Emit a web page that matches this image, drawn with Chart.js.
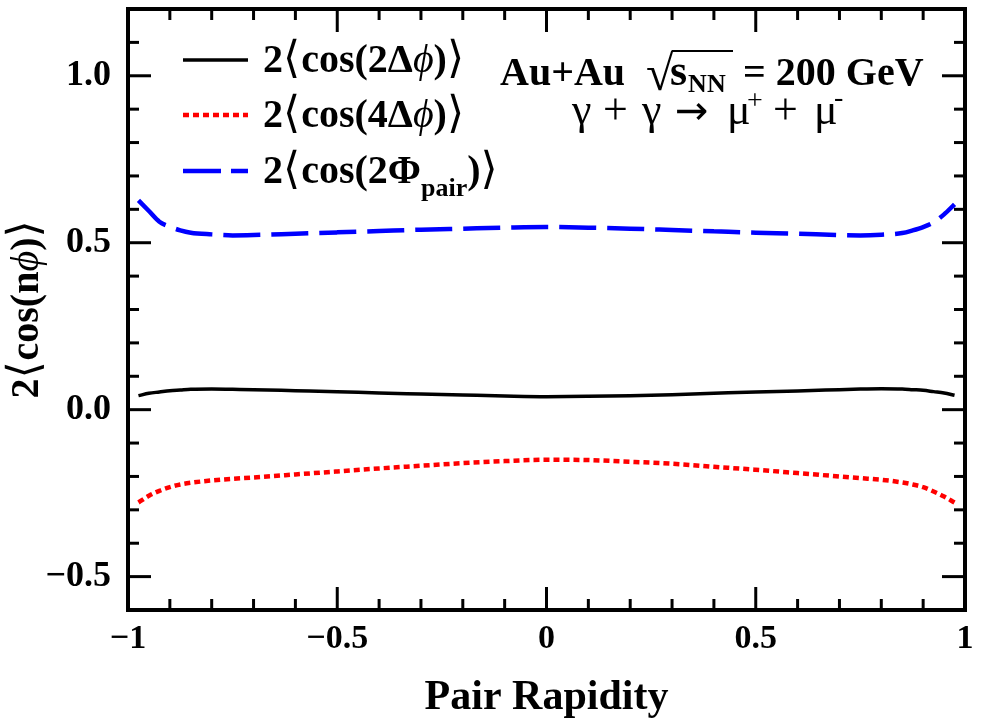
<!DOCTYPE html>
<html>
<head>
<meta charset="utf-8">
<script src="https://cdn.jsdelivr.net/npm/chart.js@4.4.1/dist/chart.umd.min.js"></script>
<style>
  html, body { margin: 0; padding: 0; background: #ffffff; }
  #wrap { width: 982px; height: 726px; }
</style>
</head>
<body>
<div id="wrap"><canvas id="c" width="982" height="726"></canvas></div>
<script>
// ---------------- data ----------------
const rapidity = [-0.975, -0.95, -0.925, -0.9, -0.875, -0.85, -0.8, -0.75, -0.7, -0.6, -0.5, -0.4, -0.3, -0.2, -0.1,
                  0, 0.1, 0.2, 0.3, 0.4, 0.5, 0.6, 0.7, 0.75, 0.8, 0.85, 0.875, 0.9, 0.925, 0.95, 0.975];
const cos2dphi = [0.042, 0.049, 0.053, 0.057, 0.059, 0.061, 0.062, 0.061, 0.060, 0.057, 0.054, 0.050, 0.047, 0.044, 0.041,
                  0.039, 0.040, 0.042, 0.045, 0.049, 0.053, 0.056, 0.060, 0.062, 0.063, 0.062, 0.060, 0.058, 0.054, 0.050, 0.043];
const cos4dphi = [-0.278, -0.258, -0.243, -0.232, -0.224, -0.219, -0.212, -0.207, -0.203, -0.194, -0.185, -0.176, -0.168, -0.160, -0.154,
                  -0.150, -0.151, -0.156, -0.162, -0.171, -0.180, -0.190, -0.200, -0.205, -0.210, -0.218, -0.224, -0.232, -0.245, -0.260, -0.278];
const cos2phipair = [0.627, 0.595, 0.563, 0.548, 0.537, 0.530, 0.525, 0.522, 0.523, 0.527, 0.531, 0.535, 0.539, 0.542, 0.545,
                     0.547, 0.545, 0.542, 0.538, 0.534, 0.530, 0.527, 0.523, 0.522, 0.524, 0.529, 0.537, 0.547, 0.561, 0.585, 0.615];

const xTickValues = [-1, -0.5, 0, 0.5, 1];
const xTickLabels = ['\u22121', '\u22120.5', '0', '0.5', '1'];
const yTickValues = [-0.5, 0, 0.5, 1.0];
const yTickLabels = ['\u22120.5', '0.0', '0.5', '1.0'];
const xMinorValues = [-0.9, -0.8, -0.7, -0.6, -0.4, -0.3, -0.2, -0.1, 0.1, 0.2, 0.3, 0.4, 0.6, 0.7, 0.8, 0.9];
const yMinorValues = [-0.6, -0.4, -0.3, -0.2, -0.1, 0.1, 0.2, 0.3, 0.4, 0.6, 0.7, 0.8, 0.9, 1.1, 1.2];

// ---------------- styling ----------------
const SERIF = "'Liberation Serif', 'DejaVu Serif', serif";
const B = (s) => 'bold ' + s + 'px ' + SERIF;
const I = (s) => 'italic ' + s + 'px ' + SERIF;
const R = (s) => s + 'px ' + SERIF;
const BR = (s) => s + "px 'DejaVu Sans', " + SERIF;  // thin angle brackets / arrow

const pts = (ys) => rapidity.map((x, i) => ({ x: x, y: ys[i] }));

function drawRich(ctx, pieces, x, y) {
  for (const p of pieces) {
    ctx.font = p.font;
    ctx.fillText(p.t, x, y + (p.dy || 0));
    x += ctx.measureText(p.t).width + (p.dx || 0);
  }
  return x;
}
function richWidth(ctx, pieces) {
  let w = 0;
  for (const p of pieces) { ctx.font = p.font; w += ctx.measureText(p.t).width + (p.dx || 0); }
  return w;
}
function bracketText(mid, fs) {
  const arr = [{ t: '2', font: B(fs) }, { t: '\u27E8', font: BR(fs + 4), dx: 1 }];
  return arr.concat(mid, [{ t: ')', font: B(fs) }, { t: '\u27E9', font: BR(fs + 4) }]);
}

const framePlugin = {
  id: 'framePlugin',
  beforeDraw(chart) {
    const ctx = chart.ctx;
    ctx.save();
    ctx.fillStyle = '#ffffff';
    ctx.fillRect(0, 0, chart.width, chart.height);
    ctx.restore();
  },
  afterDraw(chart) {
    const ctx = chart.ctx;
    const a = chart.chartArea;
    const xs = chart.scales.x, ys = chart.scales.y;
    ctx.save();
    ctx.strokeStyle = '#000';
    ctx.lineCap = 'butt';
    // ticks on all four sides, pointing inward
    const MAJ = 23, MIN = 11;
    ctx.lineWidth = 3;
    const xt = (v, len) => {
      const px = xs.getPixelForValue(v);
      ctx.beginPath(); ctx.moveTo(px, a.bottom); ctx.lineTo(px, a.bottom - len); ctx.stroke();
      ctx.beginPath(); ctx.moveTo(px, a.top); ctx.lineTo(px, a.top + len); ctx.stroke();
    };
    const yt = (v, len) => {
      const py = ys.getPixelForValue(v);
      ctx.beginPath(); ctx.moveTo(a.left, py); ctx.lineTo(a.left + len, py); ctx.stroke();
      ctx.beginPath(); ctx.moveTo(a.right, py); ctx.lineTo(a.right - len, py); ctx.stroke();
    };
    xTickValues.forEach(v => xt(v, MAJ));
    xMinorValues.forEach(v => xt(v, MIN));
    yTickValues.forEach(v => yt(v, MAJ));
    yMinorValues.forEach(v => yt(v, MIN));
    // frame
    ctx.lineWidth = 4;
    ctx.strokeRect(a.left, a.top, a.right - a.left, a.bottom - a.top);

    // legend
    ctx.fillStyle = '#000';
    ctx.textBaseline = 'alphabetic';
    ctx.textAlign = 'left';
    const lx0 = 183, lx1 = 248, tx = 263, FS = 40;
    const rows = [
      { y: 60, base: 72, color: '#000000', dash: [], w: 3.5,
        text: bracketText([{ t: 'cos(2\u0394', font: B(FS) }, { t: '\u03D5', font: I(FS) }], FS) },
      { y: 115, base: 127, color: '#ff0000', dash: [6, 4], w: 4.5,
        text: bracketText([{ t: 'cos(4\u0394', font: B(FS) }, { t: '\u03D5', font: I(FS) }], FS) },
      { y: 171, base: 183, color: '#0000ff', dash: [38, 10], w: 4.5,
        text: bracketText([{ t: 'cos(2\u03A6', font: B(FS) }, { t: 'pair', font: B(26), dy: 13 }], FS) }
    ];
    for (const r of rows) {
      ctx.save();
      ctx.strokeStyle = r.color; ctx.lineWidth = r.w; ctx.setLineDash(r.dash);
      ctx.beginPath(); ctx.moveTo(lx0, r.y); ctx.lineTo(lx1, r.y); ctx.stroke();
      ctx.restore();
      drawRich(ctx, r.text, tx, r.base);
    }

    // annotation line 1
    ctx.font = B(40);
    ctx.fillText('Au+Au', 500, 85);
    ctx.font = R(50);
    ctx.fillText('\u221A', 646, 90);
    const m = ctx.measureText('\u221A');
    const rtop = 90 - m.actualBoundingBoxAscent;
    const rx = 646 + m.actualBoundingBoxRight;
    ctx.lineWidth = 1.8;
    ctx.beginPath(); ctx.moveTo(rx - 2, rtop + 1); ctx.lineTo(733, rtop + 1); ctx.stroke();
    ctx.font = B(44);
    ctx.fillText('s', 670, 85);
    const sw = ctx.measureText('s').width;
    ctx.font = B(26);
    ctx.fillText('NN', 670 + sw + 1, 92);
    ctx.font = B(40);
    ctx.fillText('= 200 GeV', 743, 85);

    // annotation line 2
    ctx.font = R(44);
    const l2 = [['\u03B3', 572], ['+', 603], ['\u03B3', 642], ['\u03BC', 727], ['+', 773], ['\u03BC', 814]];
    for (const [t, x] of l2) ctx.fillText(t, x, 124);
    ctx.font = BR(40);
    ctx.fillText('\u2192', 675, 124);
    ctx.font = R(28);
    ctx.fillText('+', 747, 109);
    ctx.fillText('-', 834, 106);

    // y-axis title (rotated)
    const ytp = bracketText([{ t: 'cos(n', font: B(40) }, { t: '\u03D5', font: I(40) }], 40);
    ctx.save();
    ctx.translate(38, (a.top + a.bottom) / 2);
    ctx.rotate(-Math.PI / 2);
    const w = richWidth(ctx, ytp);
    drawRich(ctx, ytp, -w / 2, 0);
    ctx.restore();

    ctx.restore();
  }
};

const ctx = document.getElementById('c').getContext('2d');
new Chart(ctx, {
  type: 'line',
  data: {
    datasets: [
      { label: '2<cos(2\u0394\u03D5)>', data: pts(cos2dphi), borderColor: '#000000', borderWidth: 3.5,
        pointRadius: 0, fill: false, cubicInterpolationMode: 'monotone' },
      { label: '2<cos(4\u0394\u03D5)>', data: pts(cos4dphi), borderColor: '#ff0000', borderWidth: 4.5, borderDash: [6, 4],
        pointRadius: 0, fill: false, cubicInterpolationMode: 'monotone' },
      { label: '2<cos(2\u03A6pair)>', data: pts(cos2phipair), borderColor: '#0000ff', borderWidth: 4.5, borderDash: [37, 11],
        pointRadius: 0, fill: false, cubicInterpolationMode: 'monotone' }
    ]
  },
  options: {
    responsive: false,
    animation: false,
    devicePixelRatio: 1,
    layout: { padding: { top: 9, right: 17, left: 0, bottom: 0 } },
    plugins: { legend: { display: false }, tooltip: { enabled: false }, title: { display: false } },
    scales: {
      x: {
        type: 'linear', min: -1, max: 1,
        afterFit(s) { s.height = 116; s.paddingLeft = 0; s.paddingRight = 0; },
        afterBuildTicks(s) { s.ticks = xTickValues.map(v => ({ value: v })); },
        ticks: { callback: (v, i) => xTickLabels[i], font: { family: SERIF, size: 34, weight: 'bold' },
                 color: '#000', padding: 9, maxRotation: 0, autoSkip: false },
        grid: { display: false, drawTicks: false },
        border: { display: false },
        title: { display: true, text: 'Pair Rapidity', color: '#000',
                 font: { family: SERIF, size: 42, weight: 'bold' }, padding: { top: 0, bottom: 3 } }
      },
      y: {
        type: 'linear', min: -0.6, max: 1.2,
        afterFit(s) { s.width = 128; s.paddingTop = 0; s.paddingBottom = 0; },
        afterBuildTicks(s) { s.ticks = yTickValues.map(v => ({ value: v })); },
        ticks: { callback: (v, i) => yTickLabels[i], font: { family: SERIF, size: 36, weight: 'bold' },
                 color: '#000', padding: 17 },
        grid: { display: false, drawTicks: false },
        border: { display: false }
      }
    }
  },
  plugins: [framePlugin]
});
</script>
</body>
</html>
